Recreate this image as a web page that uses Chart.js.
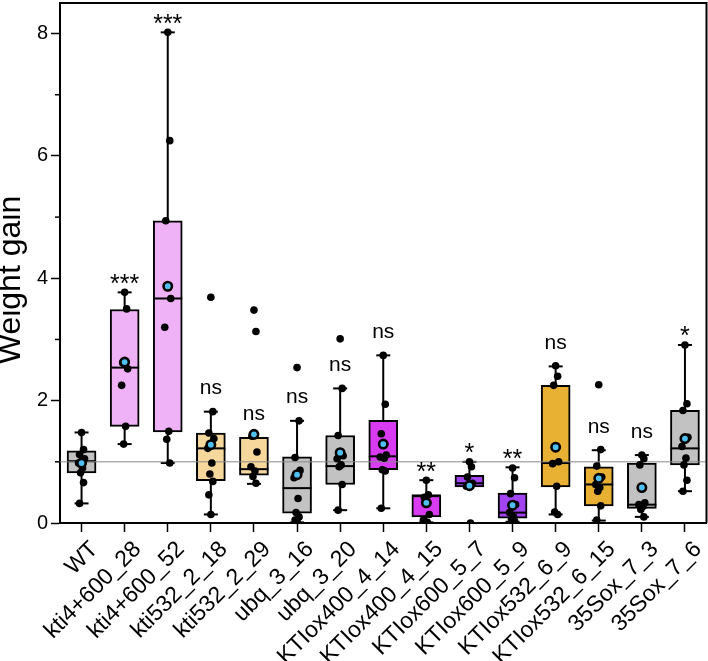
<!DOCTYPE html>
<html><head><meta charset="utf-8">
<script src="https://cdn.jsdelivr.net/npm/chart.js@4.4.1/dist/chart.umd.min.js"></script>
<style>html,body{margin:0;padding:0;background:#fff}</style>
</head><body>
<canvas id="c" width="708" height="661"></canvas>
<script>
const categories = ['WT','kti4+600_28','kti4+600_52','kti532_2_18','kti532_2_29','ubq_3_16','ubq_3_20','KTIox400_4_14','KTIox400_4_15','KTIox600_5_7','KTIox600_5_9','KTIox532_6_9','KTIox532_6_15','35Sox_7_3','35Sox_7_6'];
const whiskerLow  = [0.32, 1.29, 0.98, 0.14, 0.64, 0.01, 0.21, 0.24, 0.01, 0.59, 0.02, 0.14, 0.04, 0.10, 0.52];
const q1          = [0.82, 1.58, 1.49, 0.69, 0.78, 0.16, 0.63, 0.87, 0.10, 0.59, 0.08, 0.59, 0.28, 0.24, 0.95];
const median      = [1.01, 2.54, 3.67, 1.22, 0.88, 0.57, 0.93, 1.09, 0.45, 0.65, 0.17, 0.98, 0.63, 0.30, 1.22];
const q3          = [1.18, 3.49, 4.94, 1.47, 1.40, 1.08, 1.43, 1.68, 0.45, 0.78, 0.49, 2.25, 0.92, 0.98, 1.84];
const whiskerHigh = [1.48, 3.77, 8.02, 1.82, 1.40, 1.67, 2.20, 2.74, 0.70, 1.00, 0.91, 2.56, 1.19, 1.11, 2.91];
const means       = [0.98, 2.63, 3.87, 1.28, 1.45, 0.79, 1.15, 1.29, 0.33, 0.61, 0.29, 1.24, 0.73, 0.58, 1.38];
const significance = ['', '***', '***', 'ns', 'ns', 'ns', 'ns', 'ns', '**', '*', '**', 'ns', 'ns', 'ns', '*'];
const rawPoints = [
  [1.48, 1.20, 1.12, 1.05, 0.98, 0.90, 0.82, 0.66, 0.32],
  [3.77, 3.50, 2.62, 2.52, 2.25, 1.58, 1.29],
  [8.02, 6.25, 4.94, 3.67, 3.20, 1.50, 1.37, 0.98],
  [3.69, 1.82, 1.47, 1.38, 1.22, 0.98, 0.80, 0.68, 0.46, 0.14],
  [3.48, 3.13, 1.42, 1.16, 0.92, 0.85, 0.76, 0.65],
  [2.54, 1.67, 1.07, 0.86, 0.74, 0.40, 0.17, 0.10, 0.05, 0.02],
  [3.01, 2.20, 1.43, 1.10, 1.05, 0.95, 0.92, 0.63, 0.21],
  [2.74, 1.94, 1.46, 1.11, 1.08, 1.06, 0.87, 0.85, 0.24],
  [0.70, 0.46, 0.42, 0.14, 0.05, 0.01],
  [1.00, 0.92, 0.75, 0.65, 0.60, 0.00],
  [0.90, 0.74, 0.48, 0.30, 0.17, 0.10, 0.06, 0.03],
  [2.57, 2.40, 2.25, 1.00, 0.97, 0.60, 0.18, 0.14],
  [2.26, 1.20, 0.93, 0.75, 0.63, 0.58, 0.52, 0.28, 0.05],
  [1.11, 1.05, 0.95, 0.33, 0.30, 0.27, 0.22, 0.10],
  [2.91, 1.95, 1.84, 1.40, 1.25, 1.06, 0.95, 0.70, 0.52]
];
const yTicks = [0, 1, 2, 3, 4, 5, 6, 7, 8];
const referenceValue = 1;
const yTitle = 'Weight gain';

const boxColors = ['#c2c2c2','#f0b2f7','#f0b2f7','#f6d79c','#f6d79c','#c2c2c2','#c2c2c2','#d93cf0','#d93cf0','#a244f2','#a244f2','#e8b133','#e8b133','#c2c2c2','#c2c2c2'];
const FONT = '"Liberation Sans", Arial, Helvetica, sans-serif';
const jitter = [0, 2, -2, 3, -3, 1, -1, 2, -2, 0];

const boxPlugin = {
  id: 'boxParts',
  beforeDatasetsDraw(chart) {
    const {ctx, scales: {x, y}} = chart;
    ctx.save();
    ctx.strokeStyle = '#000';
    ctx.lineWidth = 2;
    categories.forEach((c, i) => {
      const px = x.getPixelForValue(i);
      ctx.beginPath();
      ctx.moveTo(px, y.getPixelForValue(whiskerHigh[i]));
      ctx.lineTo(px, y.getPixelForValue(whiskerLow[i]));
      ctx.stroke();
      const capW = 7;
      if (whiskerHigh[i] > q3[i]) {
        const py = y.getPixelForValue(whiskerHigh[i]);
        ctx.beginPath(); ctx.moveTo(px - capW, py); ctx.lineTo(px + capW, py); ctx.stroke();
      }
      if (whiskerLow[i] < q1[i]) {
        const py = y.getPixelForValue(whiskerLow[i]);
        ctx.beginPath(); ctx.moveTo(px - capW, py); ctx.lineTo(px + capW, py); ctx.stroke();
      }
    });
    ctx.restore();
  },
  afterDatasetsDraw(chart) {
    const {ctx, chartArea: a, scales: {x, y}} = chart;
    const meta = chart.getDatasetMeta(0);
    ctx.save();
    ctx.strokeStyle = '#000';
    ctx.lineWidth = 2;
    categories.forEach((c, i) => {
      const bar = meta.data[i];
      const half = bar.width / 2;
      const px = x.getPixelForValue(i);
      const py = y.getPixelForValue(median[i]);
      ctx.beginPath(); ctx.moveTo(px - half, py); ctx.lineTo(px + half, py); ctx.stroke();
    });
    const ry = y.getPixelForValue(referenceValue);
    ctx.strokeStyle = '#8a8a8a';
    ctx.lineWidth = 1;
    ctx.beginPath(); ctx.moveTo(a.left, ry); ctx.lineTo(a.right, ry); ctx.stroke();
    ctx.save();
    ctx.beginPath(); ctx.rect(a.left, a.top, a.right - a.left, a.bottom - a.top); ctx.clip();
    ctx.fillStyle = '#000';
    rawPoints.forEach((pts, i) => {
      const px = x.getPixelForValue(i);
      pts.forEach((v, j) => {
        ctx.beginPath();
        ctx.arc(px + jitter[j % jitter.length], y.getPixelForValue(v), 3.8, 0, Math.PI * 2);
        ctx.fill();
      });
    });
    ctx.restore();
    means.forEach((v, i) => {
      const px = x.getPixelForValue(i);
      const py = y.getPixelForValue(v);
      ctx.beginPath();
      ctx.arc(px, py, 4.2, 0, Math.PI * 2);
      ctx.fillStyle = '#4fc0f2';
      ctx.fill();
      ctx.lineWidth = 2.6;
      ctx.strokeStyle = '#000';
      ctx.stroke();
    });
    ctx.fillStyle = '#000';
    ctx.textAlign = 'center';
    ctx.textBaseline = 'alphabetic';
    significance.forEach((s, i) => {
      if (!s) return;
      const px = x.getPixelForValue(i);
      const top = y.getPixelForValue(whiskerHigh[i]);
      const isStar = s.indexOf('*') >= 0;
      ctx.font = (isStar ? 25 : 21) + 'px ' + FONT;
      const m = ctx.measureText(s);
      const centerOffset = isStar ? 13.5 : 23;
      const glyphMid = (m.actualBoundingBoxAscent - m.actualBoundingBoxDescent) / 2;
      ctx.fillText(s, px, top - centerOffset + glyphMid);
    });
    ctx.restore();
  },
  afterDraw(chart) {
    const {ctx, chartArea: a, scales: {y}} = chart;
    ctx.save();
    ctx.strokeStyle = '#000';
    ctx.lineWidth = 2;
    ctx.beginPath();
    ctx.moveTo(a.left, a.top); ctx.lineTo(a.right, a.top); ctx.lineTo(a.right, a.bottom);
    ctx.stroke();
    ctx.lineWidth = 1.5;
    yTicks.forEach(v => {
      if (v % 2 === 1) {
        const py = y.getPixelForValue(v);
        ctx.beginPath(); ctx.moveTo(a.left - 5, py); ctx.lineTo(a.left, py); ctx.stroke();
      }
    });
    ctx.translate(20, 280);
    ctx.rotate(-Math.PI / 2);
    ctx.font = '32px ' + FONT;
    ctx.fillStyle = '#000';
    ctx.textAlign = 'center';
    ctx.textBaseline = 'alphabetic';
    ctx.fillText(yTitle, 0, 0);
    ctx.restore();
  }
};

new Chart(document.getElementById('c'), {
  type: 'bar',
  data: {
    labels: categories,
    datasets: [{
      data: categories.map((c, i) => [q1[i], q3[i]]),
      backgroundColor: boxColors,
      borderColor: '#000',
      borderWidth: 2,
      borderSkipped: false,
      barThickness: 29
    }]
  },
  options: {
    responsive: false,
    devicePixelRatio: 1,
    animation: false,
    layout: {padding: {top: 3, right: 1.5, left: 0, bottom: 0}},
    plugins: {legend: {display: false}, tooltip: {enabled: false}},
    scales: {
      x: {
        type: 'category',
        offset: true,
        grid: {drawOnChartArea: false, offset: false, tickLength: 9, tickColor: '#000', tickWidth: 1.5},
        border: {display: true, color: '#000', width: 2},
        ticks: {font: {size: 23, family: FONT}, color: '#000', maxRotation: 45, minRotation: 45, padding: 4, labelOffset: 13, autoSkip: false},
        afterFit(s) { s.height = 138; s.paddingLeft = 0; s.paddingRight = 0; }
      },
      y: {
        min: 0,
        max: 8.5,
        afterBuildTicks(s) { s.ticks = yTicks.map(v => ({value: v})); },
        grid: {drawOnChartArea: false, tickLength: 9, tickWidth: 1.5,
               tickColor: (ctx) => (ctx.tick && ctx.tick.value % 2 === 1) ? 'rgba(0,0,0,0)' : '#000'},
        border: {display: true, color: '#000', width: 2},
        ticks: {font: {size: 20, family: FONT}, color: '#000', padding: 3,
                callback: (v) => (v % 2 === 0 ? String(v) : '')},
        afterFit(s) { s.width = 60; s.paddingTop = 0; s.paddingBottom = 0; }
      }
    }
  },
  plugins: [boxPlugin]
});
</script>
</body></html>
